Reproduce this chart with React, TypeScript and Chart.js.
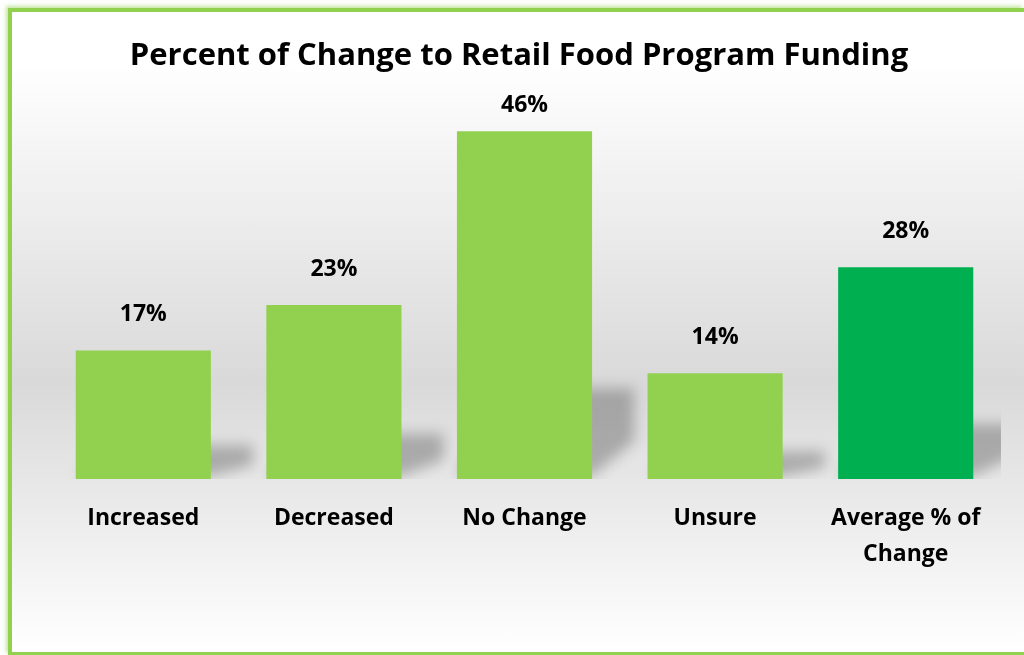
import React, { useEffect, useRef } from "react";
import { Chart, registerables } from "chart.js";

Chart.register(...registerables);

const title = "Percent of Change to Retail Food Program Funding";
const categories: (string | string[])[] = [
  "Increased",
  "Decreased",
  "No Change",
  "Unsure",
  ["Average % of", "Change"],
];
const values = [17, 23, 46, 14, 28];
const yMax = 50;

const FONT = "'Open Sans', Lato, sans-serif";
const BAR_GREEN = "#92d050";
const AVG_GREEN = "#00b050";

const shadowPlugin = {
  id: "barShadow",
  beforeDatasetsDraw(chart: any) {
    const { ctx, chartArea } = chart;
    const meta = chart.getDatasetMeta(0);
    ctx.save();
    ctx.beginPath();
    ctx.rect(chartArea.left, chartArea.top, chartArea.right - chartArea.left, chartArea.bottom - chartArea.top);
    ctx.clip();
    ctx.filter = "blur(7px)";
    ctx.fillStyle = "rgba(0,0,0,0.25)";
    meta.data.forEach((bar: any) => {
      const p = bar.getProps(["x", "y", "base", "width"], true);
      const xl = p.x - p.width / 2;
      const xr = p.x + p.width / 2;
      const h = p.base - p.y;
      const H = 0.26 * h;
      const dx = 42;
      const c = 0.42 * H;
      ctx.beginPath();
      ctx.moveTo(xl, p.base - 3);
      ctx.lineTo(xl + dx, p.base - H);
      ctx.lineTo(xr + dx, p.base - H);
      ctx.lineTo(xr + dx, p.base - c);
      ctx.lineTo(xr, p.base - 3);
      ctx.closePath();
      ctx.fill();
    });
    ctx.restore();
  },
};

const titlePlugin = {
  id: "centeredTitle",
  afterDraw(chart: any) {
    const { ctx } = chart;
    ctx.save();
    ctx.font = `bold 31px ${FONT}`;
    ctx.fillStyle = "#000";
    ctx.textAlign = "center";
    ctx.textBaseline = "middle";
    ctx.fillText(title, chart.width / 2 + 1, 44.6);
    ctx.restore();
  },
};

const valueLabelPlugin = {
  id: "valueLabels",
  afterDatasetsDraw(chart: any) {
    const { ctx } = chart;
    const meta = chart.getDatasetMeta(0);
    ctx.save();
    ctx.font = `bold 23px ${FONT}`;
    ctx.fillStyle = "#000";
    ctx.textAlign = "center";
    ctx.textBaseline = "middle";
    meta.data.forEach((bar: any, i: number) => {
      const p = bar.getProps(["x", "y"], true);
      const y = Math.max(p.y - 36, 93.5);
      ctx.fillText(`${values[i]}%`, p.x, y);
    });
    ctx.restore();
  },
};

export default function App() {
  const canvasRef = useRef<HTMLCanvasElement | null>(null);

  useEffect(() => {
    if (!canvasRef.current) return;
    const chart = new Chart(canvasRef.current, {
      type: "bar",
      data: {
        labels: categories,
        datasets: [
          {
            data: values,
            backgroundColor: (c: any) => (c.dataIndex === values.length - 1 ? AVG_GREEN : BAR_GREEN),
            borderWidth: 0,
            barPercentage: 0.709,
            categoryPercentage: 1,
          },
        ],
      },
      options: {
        responsive: false,
        animation: false,
        layout: { padding: { left: 36, right: 23, top: 89, bottom: 0 } },
        plugins: {
          legend: { display: false },
          tooltip: { enabled: false },
          title: { display: false },
        },
        scales: {
          x: {
            grid: { display: false, drawTicks: false },
            border: { display: false },
            ticks: {
              color: "#000",
              padding: 22,
              maxRotation: 0,
              autoSkip: false,
              font: { family: FONT, size: 23, weight: "bold", lineHeight: 1.54 },
            },
            afterFit: (scale: any) => {
              scale.height = 173;
            },
          },
          y: {
            display: false,
            min: 0,
            max: yMax,
          },
        },
      },
      plugins: [shadowPlugin, valueLabelPlugin, titlePlugin],
    });
    return () => chart.destroy();
  }, []);

  return (
    <div
      style={{
        position: "fixed",
        left: 8,
        top: 8,
        width: 1016,
        height: 647,
        boxSizing: "border-box",
        borderLeft: "4px solid #92d050",
        borderTop: "4px solid #92d050",
        borderBottom: "3px solid #92d050",
        boxShadow: "-2px -2px 4px rgba(146,208,80,0.55)",
        background: "linear-gradient(to bottom, #ffffff 0%, #ffffff 8%, #d9d9d9 58%, #ffffff 100%)",
        overflow: "hidden",
      }}
    >
      <canvas ref={canvasRef} width={1012} height={640} style={{ display: "block" }} />
    </div>
  );
}
